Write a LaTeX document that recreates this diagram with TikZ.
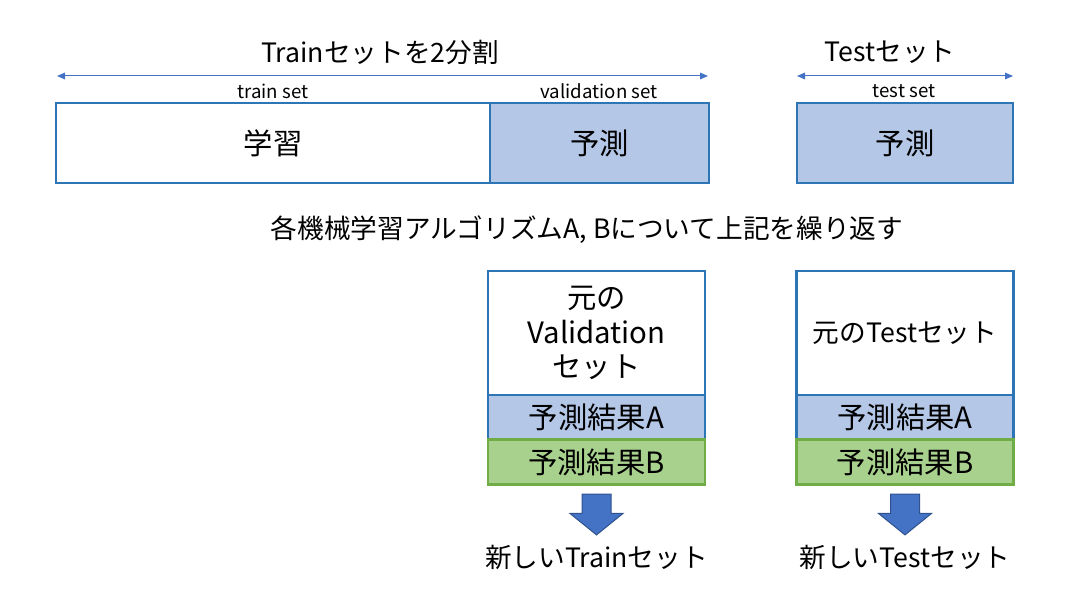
\documentclass[tikz,border=0pt]{standalone}
\usepackage{fontspec}
\setmainfont{Noto Sans CJK JP}
\usetikzlibrary{arrows.meta,positioning,shapes.arrows}
\definecolor{edgeblue}{HTML}{2E75B6}
\definecolor{paleblue}{HTML}{B4C7E7}
\definecolor{palegreen}{HTML}{A9D18E}
\definecolor{edgegreen}{HTML}{70AD47}
\definecolor{arrowblue}{HTML}{4472C4}
\definecolor{arrowedge}{HTML}{2F528F}

\begin{document}
\begin{tikzpicture}[
        x=0.75pt, y=-0.75pt,
        node distance=0pt,
        part/.style={
            draw=edgeblue,
            line width=2pt,
            outer sep=0pt,
            inner sep=0pt,
            minimum height=60pt,
            align=center,
            font=\fontsize{22}{26}\selectfont
        },
        result/.style={
            part,
            minimum width=162.75pt,
            minimum height=33.5pt
        },
        heading/.style={font=\fontsize{20}{24}\selectfont, inner sep=0pt},
        small/.style={font=\fontsize{14}{16}\selectfont, inner sep=0pt},
        span/.style={
            {Triangle[length=6pt,width=5pt]}-{Triangle[length=6pt,width=5pt]},
            line width=0.75pt,
            draw=arrowblue
        },
        downarrow/.style={
            shape=single arrow,
            shape border rotate=270,
            fill=arrowblue,
            draw=arrowedge,
            line width=0.75pt,
            inner sep=10.5pt,
            minimum height=28pt,
            single arrow head extend=9pt,
            single arrow tip angle=102
        }
    ]
        \useasboundingbox (0,0) rectangle (1079,609);

        % splitting the train data
        \node[heading] (trainTitle) at (380,52) {Trainセットを2分割};
        \coordinate (trainL) at (57,76);
        \coordinate (trainR) at (708,76);
        \draw[span] (trainL) -- (trainR);
        \node[small] (trainLbl) at (273,91) {train set};
        \node[small] (validLbl) at (599,91) {validation set};
        \node[part, minimum width=325.5pt] (learn) at (273,143) {学習};
        \node[part, fill=paleblue, minimum width=164.25pt, right=of learn] (validPred) {予測};

        % the test data
        \node[heading] (testTitle) at (890,52) {Testセット};
        \coordinate (testL) at (797,76);
        \coordinate (testR) at (1013,76);
        \draw[span] (testL) -- (testR);
        \node[small] (testLbl) at (904,91) {test set};
        \node[part, fill=paleblue, minimum width=162pt] (testPred) at (905,143) {予測};

        \node[heading] (repeat) at (587,230) {各機械学習アルゴリズムA, Bについて上記を繰り返す};

        % stacked results
        \node[result, fill=white, minimum height=93pt] (origValid) at (596.5,333) {元の\\Validation\\セット};
        \node[result, fill=paleblue, below=of origValid] (validA) {予測結果A};
        \node[result, fill=palegreen, draw=edgegreen, below=of validA] (validB) {予測結果B};
        \node[downarrow, below=7pt of validB.south, anchor=north] (validArr) {};
        \node[heading, below=7pt of validArr] (newTrain) {新しいTrainセット};

        \node[result, fill=white, minimum height=93pt, font=\fontsize{20}{24}\selectfont] (origTest) at (905,333) {元のTestセット};
        \node[result, fill=paleblue, below=of origTest] (testA) {予測結果A};
        \node[result, fill=palegreen, draw=edgegreen, below=of testA] (testB) {予測結果B};
        \node[downarrow, below=7pt of testB.south, anchor=north] (testArr) {};
        \node[heading, below=7pt of testArr] (newTest) {新しいTestセット};
    \end{tikzpicture}
\end{document}
